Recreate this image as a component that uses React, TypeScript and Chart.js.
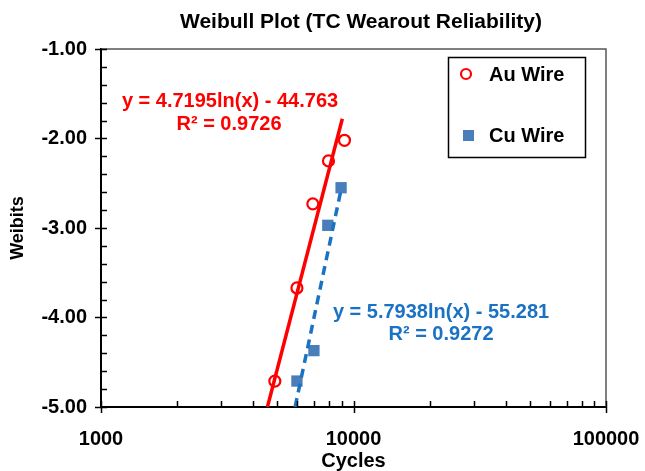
import React, { useEffect, useRef } from 'react';
import { Chart, registerables } from 'chart.js';

Chart.register(...registerables);

const titleText = 'Weibull Plot (TC Wearout Reliability)';
const xTitle = 'Cycles';
const yTitle = 'Weibits';
const xTickValues = [1000, 10000, 100000];
const yTickValues = [-1, -2, -3, -4, -5];

const auLabel = 'Au Wire';
const auCycles = [4880, 5970, 6900, 7960, 9210];
const auWeibits = [-4.71, -3.67, -2.73, -2.25, -2.02];

const cuLabel = 'Cu Wire';
const cuCycles = [5970, 6970, 7910, 8930];
const cuWeibits = [-4.71, -4.37, -2.97, -2.55];

// trendline end points (as drawn)
const auTrendCycles = [4562, 9030];
const auTrendWeibits = [-5.0, -1.78];
const cuTrendCycles = [5871, 8930];
const cuTrendWeibits = [-5.0, -2.57];

const auEquation = 'y = 4.7195ln(x) - 44.763';
const auR2 = 'R² = 0.9726';
const cuEquation = 'y = 5.7938ln(x) - 55.281';
const cuR2 = 'R² = 0.9272';

const RED = '#ff0000';
const BLUE_LINE = '#1a72c4';
const BLUE_MARK = '#4a7ebb';
const FONT = '"Liberation Sans", Arial, sans-serif';

const toXY = (xs: number[], ys: number[]) => xs.map((x, i) => ({ x, y: ys[i] }));

const decorPlugin = {
  id: 'decor',
  afterDraw(chart: any) {
    const { ctx, chartArea } = chart;
    const xs = chart.scales.x;
    const ys = chart.scales.y;
    const { left, right, top, bottom } = chartArea;
    ctx.save();
    // top & right frame
    ctx.strokeStyle = '#555';
    ctx.lineWidth = 1.5;
    ctx.beginPath();
    ctx.moveTo(left, top);
    ctx.lineTo(right, top);
    ctx.lineTo(right, bottom);
    ctx.stroke();
    // ticks
    ctx.strokeStyle = '#000';
    ctx.lineWidth = 1.5;
    ctx.beginPath();
    for (let v = -5; v <= -1 + 1e-9; v += 0.2) {
      const y = Math.round(ys.getPixelForValue(v)) + 0.5;
      const isMajor = Math.abs(v - Math.round(v)) < 1e-6;
      ctx.moveTo(isMajor ? left - 6 : left, y);
      ctx.lineTo(left + 6, y);
    }
    for (let d = 1000; d < 100000; d *= 10) {
      for (let m = 1; m <= 10; m++) {
        const v = d * m;
        const x = Math.round(xs.getPixelForValue(v)) + 0.5;
        const isMajor = m === 1 || m === 10;
        ctx.moveTo(x, isMajor ? bottom + 6 : bottom);
        ctx.lineTo(x, bottom - 6);
      }
    }
    ctx.stroke();

    // title
    ctx.fillStyle = '#000';
    ctx.font = `bold 21px ${FONT}`;
    ctx.textAlign = 'center';
    ctx.textBaseline = 'alphabetic';
    ctx.fillText(titleText, 361, 28);

    // annotations
    ctx.font = `bold 20px ${FONT}`;
    ctx.textBaseline = 'middle';
    ctx.fillStyle = RED;
    ctx.fillText(auEquation, 230, 101);
    ctx.fillText(auR2, 229, 124);
    ctx.fillStyle = BLUE_LINE;
    ctx.fillText(cuEquation, 441, 312);
    ctx.fillText(cuR2, 441, 334);

    // legend
    ctx.fillStyle = '#fff';
    ctx.fillRect(448, 57, 137, 100);
    ctx.strokeStyle = '#000';
    ctx.lineWidth = 1.5;
    ctx.strokeRect(448.5, 57.5, 137, 100);
    ctx.beginPath();
    ctx.arc(466, 74, 5, 0, Math.PI * 2);
    ctx.strokeStyle = RED;
    ctx.lineWidth = 2.2;
    ctx.stroke();
    ctx.fillStyle = BLUE_MARK;
    ctx.fillRect(463, 130, 11, 11);
    ctx.fillStyle = '#000';
    ctx.font = `bold 20px ${FONT}`;
    ctx.textAlign = 'left';
    ctx.fillText(auLabel, 489, 75);
    ctx.fillText(cuLabel, 489, 136);
    ctx.restore();
  },
};

export default function App() {
  const canvasRef = useRef<HTMLCanvasElement | null>(null);

  useEffect(() => {
    const canvas = canvasRef.current;
    if (!canvas) return;
    const chart = new Chart(canvas, {
      type: 'scatter',
      data: {
        datasets: [
          {
            label: auLabel + ' trend',
            data: toXY(auTrendCycles, auTrendWeibits),
            showLine: true,
            borderColor: RED,
            borderWidth: 3.5,
            pointRadius: 0,
            order: 0,
          },
          {
            label: cuLabel + ' trend',
            data: toXY(cuTrendCycles, cuTrendWeibits),
            showLine: true,
            borderColor: BLUE_LINE,
            borderWidth: 3.5,
            borderDash: [9, 6],
            pointRadius: 0,
            order: 0,
          },
          {
            label: auLabel,
            data: toXY(auCycles, auWeibits),
            pointStyle: 'circle',
            pointRadius: 5.5,
            pointBorderWidth: 2.2,
            pointBorderColor: RED,
            pointBackgroundColor: 'rgba(0,0,0,0)',
            borderColor: RED,
            backgroundColor: 'rgba(0,0,0,0)',
            order: 1,
          },
          {
            label: cuLabel,
            data: toXY(cuCycles, cuWeibits),
            pointStyle: 'rect',
            pointRadius: 8,
            pointBorderWidth: 0,
            pointBackgroundColor: BLUE_MARK,
            backgroundColor: BLUE_MARK,
            borderColor: BLUE_MARK,
            order: 1,
          },
        ],
      },
      options: {
        responsive: false,
        animation: false,
        layout: { padding: { top: 49, right: 39, left: 0, bottom: 0 } },
        plugins: {
          legend: { display: false },
          title: { display: false },
          tooltip: { enabled: false },
        },
        scales: {
          x: {
            type: 'logarithmic',
            min: 1000,
            max: 100000,
            afterBuildTicks: (scale: any) => {
              scale.ticks = xTickValues.map((v) => ({ value: v }));
            },
            afterFit: (scale: any) => {
              scale.height = 64;
              scale.paddingLeft = 0;
              scale.paddingRight = 0;
            },
            grid: { display: false, drawTicks: false },
            border: { display: true, color: '#000', width: 2 },
            ticks: {
              padding: 20,
              color: '#000',
              font: { family: FONT, size: 20, weight: 'bold' },
              maxRotation: 0,
              autoSkip: false,
              callback: (v: any) => String(v),
            },
            title: {
              display: true,
              text: xTitle,
              color: '#000',
              font: { family: FONT, size: 20, weight: 'bold', lineHeight: 1 },
              padding: 0,
            },
          },
          y: {
            type: 'linear',
            min: -5,
            max: -1,
            afterBuildTicks: (scale: any) => {
              scale.ticks = yTickValues.map((v) => ({ value: v }));
            },
            afterFit: (scale: any) => {
              scale.width = 101;
              scale.paddingTop = 0;
              scale.paddingBottom = 0;
            },
            grid: { display: false, drawTicks: false },
            border: { display: true, color: '#000', width: 2 },
            ticks: {
              padding: 14,
              color: '#000',
              font: { family: FONT, size: 20, weight: 'bold' },
              callback: (v: any) => Number(v).toFixed(2),
            },
            title: {
              display: true,
              text: yTitle,
              color: '#000',
              font: { family: FONT, size: 18, weight: 'bold', lineHeight: 1 },
              padding: { top: 9, bottom: 0 },
            },
          },
        },
      },
      plugins: [decorPlugin],
    } as any);
    return () => chart.destroy();
  }, []);

  return (
    <div style={{ position: 'fixed', left: 0, top: 0, width: 645, height: 471, background: '#fff' }}>
      <canvas ref={canvasRef} width={645} height={471} style={{ width: 645, height: 471 }} />
    </div>
  );
}
